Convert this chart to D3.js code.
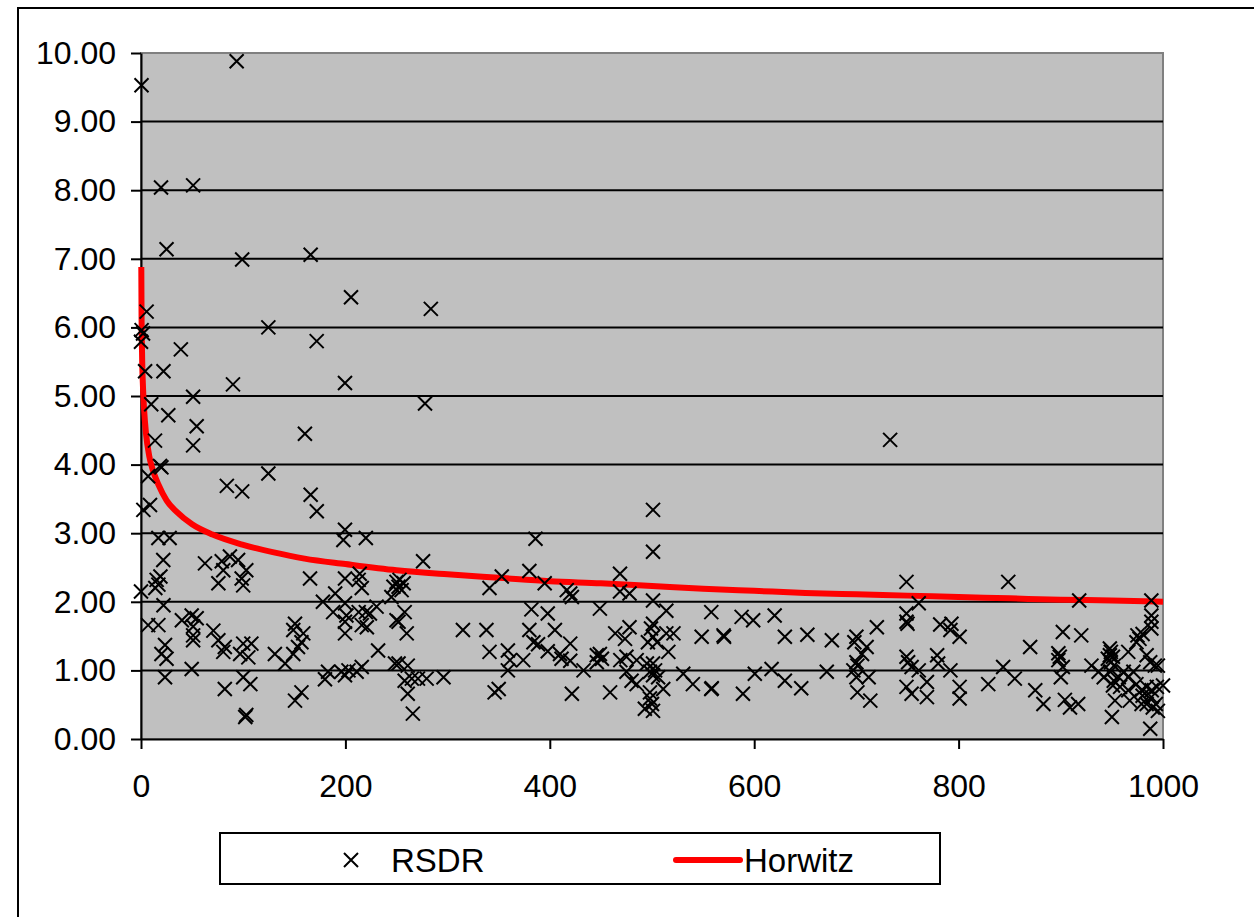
<!DOCTYPE html>
<html>
<head>
<meta charset="utf-8">
<script src="https://cdn.jsdelivr.net/npm/d3@7"></script>
<style>
  body { margin: 0; background: #ffffff; }
  text { font-family: Arial, "Liberation Sans", sans-serif; }
</style>
</head>
<body>
<div id="my_dataviz"></div>
<script>

// RSDR points: [x, value]
var rsdrPoints = [
  [0.5, 9.53], [93.6, 9.88], [19.6, 8.04], [51, 8.07], [25, 7.14], [99, 6.99], [166, 7.06],
  [5.5, 6.23], [0.6, 5.96], [2, 5.91], [0, 5.79], [124.6, 6.0], [39, 5.68], [4, 5.36], [22, 5.36],
  [90, 5.17], [51, 4.99], [10, 4.88], [26.7, 4.72], [54.5, 4.56], [13.7, 4.35], [51, 4.28],
  [18.6, 3.98], [20, 3.96], [7, 3.83], [124.6, 3.87], [84, 3.69], [99, 3.61],
  [205.5, 6.44], [283.6, 6.27], [171.9, 5.80], [199.6, 5.19], [277.9, 4.89], [160.4, 4.45], [733, 4.36],
  [2.3, 3.34], [8.8, 3.41], [166, 3.56], [172, 3.32],
  [17, 2.93], [28, 2.93], [21.8, 2.61], [62.6, 2.56], [79, 2.59], [87, 2.66], [95, 2.61], [80.5, 2.46],
  [103, 2.46], [75.7, 2.27], [98.5, 2.34], [100, 2.24], [15.3, 2.32], [17, 2.25], [19, 2.37], [14, 2.20],
  [0, 2.15], [22, 1.95], [7, 1.66], [17, 1.66], [40, 1.73], [49.6, 1.80], [54.5, 1.76], [51, 1.64],
  [51, 1.51], [51, 1.44], [70.8, 1.58], [75.7, 1.44], [82, 1.34], [80.5, 1.27], [100, 1.39], [108, 1.39],
  [97, 1.24], [105, 1.19], [23.5, 1.37], [20, 1.24], [25, 1.17], [23.5, 0.90], [49.6, 1.02], [82, 0.73],
  [100, 0.90], [107, 0.80], [102, 0.32], [103, 0.35],
  [199.6, 3.05], [198, 2.90], [220, 2.93], [165.4, 2.34], [199.6, 2.34], [214, 2.41], [213, 2.32],
  [216, 2.20], [250, 2.29], [247, 2.22], [245, 2.07], [190, 2.12], [178, 2.0], [188, 1.85], [199.6, 1.98],
  [201, 1.80], [199.6, 1.71], [199.6, 1.54], [213, 1.85], [220, 1.85], [224, 1.83], [230.5, 1.93],
  [216, 1.66], [221, 1.63], [250, 1.73], [150.7, 1.68], [149, 1.59], [158.8, 1.54], [157, 1.41],
  [153.6, 1.34], [131, 1.24], [141, 1.10], [149, 1.24], [232, 1.29], [248.5, 1.10], [183, 0.98],
  [180, 0.87], [196, 0.98], [199.6, 0.93], [203, 1.0], [211, 0.98], [216, 1.05], [150.7, 0.56], [157, 0.68],
  [276, 2.59], [253, 2.32], [257, 2.27], [252, 2.22], [255, 2.17], [353, 2.37], [341, 2.20], [380, 2.45],
  [382, 1.89], [258, 1.85], [252, 1.71], [260, 1.54], [315, 1.59], [338, 1.59], [380, 1.59], [341, 1.27],
  [359, 1.29], [361, 1.15], [359, 1.0], [374, 1.15], [384, 1.41], [252, 1.10], [261, 1.07], [258, 0.85],
  [265, 0.88], [261, 0.66], [271, 0.88], [279.5, 0.88], [296, 0.90], [266, 0.37], [346, 0.68], [350, 0.73],
  [386, 2.92],
  [501, 3.34], [501, 2.73], [395, 2.27], [416.6, 2.17], [420, 2.12], [421.6, 2.07], [468.7, 2.41],
  [468.7, 2.15], [478, 2.12], [501, 2.02], [398, 1.83], [449, 1.90], [514, 1.87], [405, 1.59], [464, 1.54],
  [473.6, 1.46], [478, 1.63], [501, 1.68], [499, 1.61], [501, 1.49], [496, 1.41], [505, 1.41], [514, 1.54],
  [388.5, 1.38], [398, 1.28], [410, 1.24], [411.5, 1.17], [420, 1.39], [420, 1.14], [433, 1.0], [446, 1.22],
  [449, 1.24], [451, 1.17], [446, 1.12], [469, 1.15], [475, 1.20], [475, 0.98], [480, 0.85], [485, 1.15],
  [485, 0.80], [495, 1.10], [498, 0.98], [501, 1.10], [501, 0.93], [503, 1.0], [506, 0.90], [511, 0.73],
  [498, 0.68], [498, 0.59], [500, 0.51], [493, 0.44], [501, 0.41], [421.6, 0.66], [459, 0.68],
  [558, 1.85], [587.7, 1.78], [599, 1.73], [620, 1.80], [521, 1.54], [516, 1.27], [548.6, 1.49], [570, 1.51],
  [570.5, 1.49], [630, 1.49], [652, 1.52], [530.6, 0.95], [540, 0.80], [558, 0.73], [558.5, 0.74],
  [589, 0.66], [600.6, 0.95], [617, 1.02], [630, 0.85], [646, 0.74],
  [749, 2.29], [761, 1.98], [749, 1.83], [749, 1.71], [750, 1.68], [782, 1.67], [676, 1.44], [700, 1.49],
  [698, 1.41], [710, 1.34], [705.5, 1.24], [720, 1.63], [700, 1.12], [701, 1.07], [697, 1.0], [700, 0.90],
  [712, 0.90], [701, 0.68], [713.6, 0.56], [671, 0.98], [749, 1.20], [750.6, 1.12], [754, 1.05], [761, 1.0],
  [769, 0.83], [749, 0.76], [754, 0.66], [769, 0.61], [779, 1.22], [780, 1.10],
  [848.6, 2.29], [793, 1.68], [792, 1.59], [801, 1.49], [792, 1.0], [801, 0.76], [801, 0.59], [829, 0.80],
  [843.6, 1.05], [855, 0.88], [870, 1.34], [875, 0.71], [883, 0.51], [902, 1.56], [897.6, 1.25],
  [899, 1.20], [897.6, 1.15], [902, 1.05], [900, 0.90], [904, 0.57], [909, 0.46],
  [918, 2.02], [988.6, 2.02], [988.6, 1.80], [988.6, 1.71], [988.6, 1.61], [920, 1.51], [975, 1.51],
  [977, 1.46], [974, 1.41], [980, 1.53], [948, 1.32], [949, 1.27], [948, 1.22], [951, 1.20], [946, 1.17],
  [949, 1.12], [952, 1.07], [966, 1.27], [984, 1.22], [987.5, 1.12], [992, 1.07], [995, 1.07], [930, 1.07],
  [937, 0.98], [942, 0.90], [948.5, 0.98], [951.8, 0.85], [956.7, 0.90], [961.6, 0.98], [966, 0.90],
  [971, 0.98], [951, 0.78], [958, 0.76], [966, 0.71], [974, 0.80], [979, 0.71], [984, 0.76], [989, 0.71],
  [994, 0.76], [1000, 0.78], [953, 0.56], [967.5, 0.56], [980, 0.63], [984, 0.51], [988.6, 0.61],
  [990, 0.46], [995, 0.41], [950, 0.32], [987.5, 0.15], [979, 0.51], [993, 0.51], [917, 0.51]
];

// Horwitz curve: [x, value]
var horwitzPoints = [
  [0.3, 6.88], [0.5, 6.28], [1, 5.65], [2, 5.11], [3, 4.81], [5, 4.44], [8, 4.13], [12, 3.90],
  [17, 3.71], [25, 3.48], [35, 3.31], [50, 3.13], [70, 2.98], [100, 2.83], [130, 2.72], [160, 2.63],
  [200, 2.55], [250, 2.46], [300, 2.40], [350, 2.35], [400, 2.30], [450, 2.27], [500, 2.23],
  [550, 2.19], [600, 2.16], [650, 2.13], [700, 2.11], [750, 2.09], [800, 2.07], [850, 2.05],
  [900, 2.03], [950, 2.02], [1000, 2.00]
];

var xTicks = [0, 200, 400, 600, 800, 1000];
var yTicks = [0, 1, 2, 3, 4, 5, 6, 7, 8, 9, 10];
var seriesNames = ["RSDR", "Horwitz"];

// set the dimensions and margins of the graph
var margin = {top: 53, right: 91, bottom: 178, left: 141},
	width = 1254 - margin.left - margin.right,
	height = 917 - margin.top - margin.bottom;

var root = d3.select("#my_dataviz")
  .append("svg")
	.attr("width", 1254)
	.attr("height", 917);

// outer chart border
root.append("rect")
	.attr("x", 18)
	.attr("y", 8)
	.attr("width", 1260)
	.attr("height", 1000)
	.attr("fill", "#ffffff")
	.attr("stroke", "#000000")
	.attr("stroke-width", 2);

var svg = root.append("g")
	.attr("transform", "translate(" + margin.left + "," + margin.top + ")");

var x = d3.scaleLinear()
	.domain([0, 1000])
	.range([0, width]);

var y = d3.scaleLinear()
	.domain([0, 10])
	.range([height, 0]);

// grey plot area
svg.append("rect")
	.attr("width", width)
	.attr("height", height)
	.attr("fill", "#c0c0c0")
	.attr("stroke", "#808080")
	.attr("stroke-width", 2);

// horizontal gridlines
svg.append("g")
  .selectAll("line")
  .data(yTicks.filter(function (d) { return d > 0 && d < 10; }))
  .enter()
  .append("line")
	.attr("x1", 0)
	.attr("x2", width)
	.attr("y1", function (d) { return y(d); })
	.attr("y2", function (d) { return y(d); })
	.attr("stroke", "#000000")
	.attr("stroke-width", 2);

// Add X axis
var xAxis = svg.append("g")
	.attr("transform", "translate(0," + height + ")")
	.call(d3.axisBottom(x).tickValues(xTicks).tickFormat(d3.format("d")).tickSize(10).tickSizeOuter(0).tickPadding(25));

// Add Y axis
var yAxis = svg.append("g")
	.call(d3.axisLeft(y).tickValues(yTicks).tickFormat(d3.format(".2f")).tickSize(10).tickSizeOuter(0).tickPadding(15));

[xAxis, yAxis].forEach(function (a) {
	a.select(".domain").attr("stroke", "#000000").attr("stroke-width", 2);
	a.selectAll(".tick line").attr("stroke", "#000000").attr("stroke-width", 2);
	a.selectAll(".tick text")
		.attr("fill", "#000000")
		.style("font-size", "32px")
		.style("font-family", "Arial, 'Liberation Sans', sans-serif");
});

// Horwitz line
var line = d3.line()
	.x(function (d) { return x(d[0]); })
	.y(function (d) { return y(d[1]); })
	.curve(d3.curveMonotoneX);

svg.append("path")
	.datum(horwitzPoints)
	.attr("d", line)
	.attr("fill", "none")
	.attr("stroke", "#ff0000")
	.attr("stroke-width", 6);

// RSDR crosses
var s = 7;
var cross = function (cx, cy) {
	return "M" + (cx - s) + "," + (cy - s) + "L" + (cx + s) + "," + (cy + s) +
		"M" + (cx - s) + "," + (cy + s) + "L" + (cx + s) + "," + (cy - s);
};

svg.append("g")
  .selectAll("path")
  .data(rsdrPoints)
  .enter()
  .append("path")
	.attr("d", function (d) { return cross(x(d[0]), y(d[1])); })
	.attr("fill", "none")
	.attr("stroke", "#000000")
	.attr("stroke-width", 2);

// legend
var legend = root.append("g");

legend.append("rect")
	.attr("x", 220)
	.attr("y", 833)
	.attr("width", 720)
	.attr("height", 51)
	.attr("fill", "#ffffff")
	.attr("stroke", "#000000")
	.attr("stroke-width", 2);

legend.append("path")
	.attr("d", cross(351, 860))
	.attr("stroke", "#000000")
	.attr("stroke-width", 2);

legend.append("text")
	.attr("x", 391)
	.attr("y", 872)
	.style("font-size", "33px")
	.text(seriesNames[0]);

legend.append("line")
	.attr("x1", 676)
	.attr("x2", 740)
	.attr("y1", 860)
	.attr("y2", 860)
	.attr("stroke", "#ff0000")
	.attr("stroke-width", 6)
	.attr("stroke-linecap", "round");

legend.append("text")
	.attr("x", 744)
	.attr("y", 872)
	.style("font-size", "33px")
	.text(seriesNames[1]);

</script>
</body>
</html>
